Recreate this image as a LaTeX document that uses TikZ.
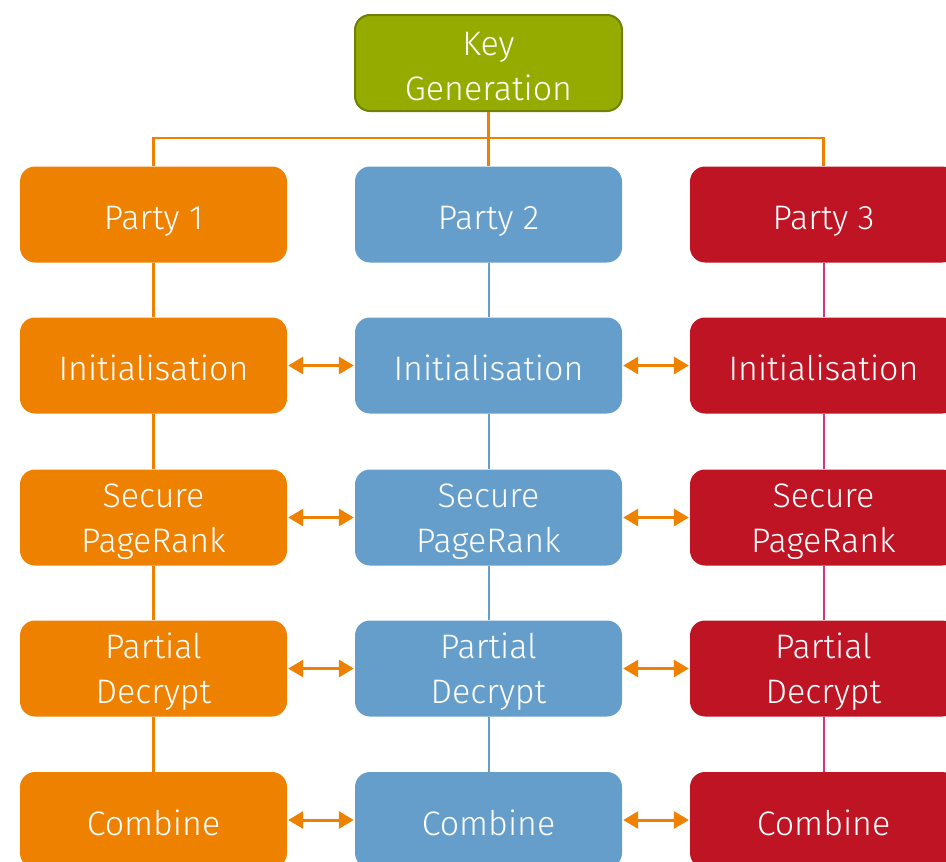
\documentclass[tikz,border=0pt]{standalone}
\usepackage{fontspec}
\setmainfont{Fira Sans Light}
\usetikzlibrary{arrows.meta}
\definecolor{kgfill}{RGB}{150,171,0}
\definecolor{kgline}{RGB}{112,128,0}
\definecolor{pone}{RGB}{238,129,0}
\definecolor{ptwo}{RGB}{102,158,203}
\definecolor{pthree}{RGB}{190,20,36}
\definecolor{pthreeline}{RGB}{214,50,130}
% extra room above the first of two lines, to sit the text a little lower
\newcommand\firstlinestrut{\rule{0pt}{31pt}}

\begin{document}
\begin{tikzpicture}[x=1pt,y=-1pt,
  box/.style={rounded corners=15pt, minimum width=267pt, minimum height=96pt,
    inner sep=0pt, text=white, align=center,
    font=\fontsize{34}{45}\selectfont},
  single/.style={text height=34pt, text depth=4pt},
  keybox/.style={box, fill=kgfill, draw=kgline, line width=2pt},
  onebox/.style={box, fill=pone},
  twobox/.style={box, fill=ptwo},
  threebox/.style={box, fill=pthree},
  oneline/.style={draw=pone, line width=2.5pt},
  twoline/.style={draw=ptwo, line width=2pt},
  threeline/.style={draw=pthreeline, line width=2pt},
  busline/.style={draw=pone, line width=2.5pt},
  exchange/.style={draw=pone, line width=3pt,
    {Triangle[length=15pt,width=17pt]}-{Triangle[length=15pt,width=17pt]},
    shorten <=1pt, shorten >=1pt}]
\useasboundingbox (0,0) rectangle (946,862);
\clip (0,0) rectangle (946,862);

% top node
\node[keybox] (kg) at (488.5,63) {\firstlinestrut Key\\Generation};

% three parties, one column each
\node[onebox,single]   (p1) at (153.5,214.5) {Party 1};
\node[twobox,single]   (p2) at (488.5,214.5) {Party 2};
\node[threebox,single] (p3) at (823.5,214.5) {Party 3};

\node[onebox,single]   (i1) at (153.5,365.5) {Initialisation};
\node[twobox,single]   (i2) at (488.5,365.5) {Initialisation};
\node[threebox,single] (i3) at (823.5,365.5) {Initialisation};

\node[onebox]   (s1) at (153.5,517.5) {\firstlinestrut Secure\\PageRank};
\node[twobox]   (s2) at (488.5,517.5) {\firstlinestrut Secure\\PageRank};
\node[threebox] (s3) at (823.5,517.5) {\firstlinestrut Secure\\PageRank};

\node[onebox]   (d1) at (153.5,668.5) {\firstlinestrut Partial\\Decrypt};
\node[twobox]   (d2) at (488.5,668.5) {\firstlinestrut Partial\\Decrypt};
\node[threebox] (d3) at (823.5,668.5) {\firstlinestrut Partial\\Decrypt};

\node[onebox,single]   (c1) at (153.5,820) {Combine};
\node[twobox,single]   (c2) at (488.5,820) {Combine};
\node[threebox,single] (c3) at (823.5,820) {Combine};

% distribution bus from key generation
\coordinate (bus) at (488.5,138);
\draw[busline] (kg.south) -- (p2.north);
\draw[busline] (p1.north) |- (p3.north |- bus) -- (p3.north);

% column links
\draw[oneline] (p1) -- (i1) (i1) -- (s1) (s1) -- (d1) (d1) -- (c1);
\draw[twoline] (p2) -- (i2) (i2) -- (s2) (s2) -- (d2) (d2) -- (c2);
\draw[threeline] (p3) -- (i3) (i3) -- (s3) (s3) -- (d3) (d3) -- (c3);

% exchanges between neighbouring parties
\foreach \a/\b in {i1/i2,i2/i3,s1/s2,s2/s3,d1/d2,d2/d3,c1/c2,c2/c3}
  \draw[exchange] (\a.east) -- (\b.west);
\end{tikzpicture}
\end{document}
